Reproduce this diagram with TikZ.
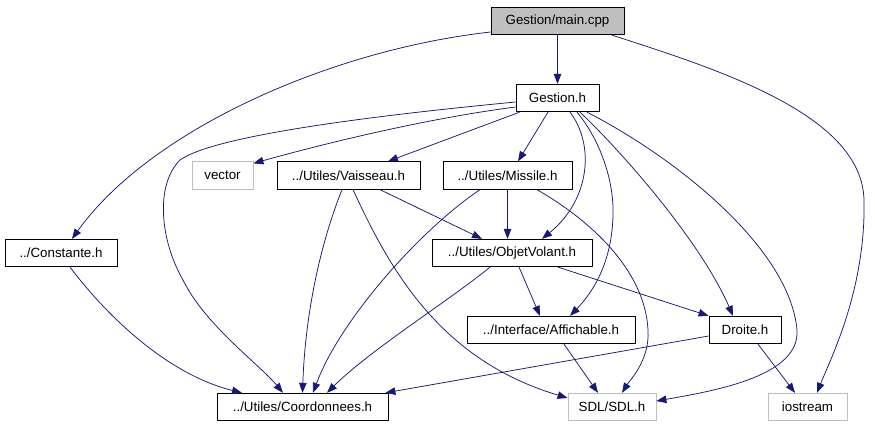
\documentclass[tikz,border=0pt]{standalone}
\usepackage{fontspec}
\setmainfont{Liberation Sans}
\usetikzlibrary{arrows.meta}
\definecolor{edgeblue}{HTML}{191970}
\definecolor{lightgrey}{HTML}{BFBFBF}
\begin{document}
\begin{tikzpicture}[x=1pt,y=-1pt,
  box/.style={draw=black,line width=0.8pt,rectangle,inner sep=0pt,minimum height=27.5pt,
    font=\fontsize{13.33}{16}\selectfont,text=black},
  extbox/.style={box,draw=lightgrey},
  curbox/.style={box,fill=lightgrey},
  dep/.style={draw=edgeblue,line width=0.75pt,-{Triangle[length=10pt,width=7.5pt]},fill=none},
]
\fill[white] (0,0) rectangle (875,427);
\useasboundingbox (0,0) rectangle (875,427);

\node[curbox,minimum width=133pt] (main) at (557.5,21) {Gestion/main.cpp};
\node[box,minimum width=83pt] (gestionh) at (557.5,98) {Gestion.h};
\node[extbox,minimum width=61pt] (vector) at (222.5,175.5) {vector};
\node[box,minimum width=143pt] (vaisseau) at (348.5,175.5) {../Utiles/Vaisseau.h};
\node[box,minimum width=129pt] (missile) at (507.5,175.5) {../Utiles/Missile.h};
\node[box,minimum width=112pt] (constante) at (61,253) {../Constante.h};
\node[box,minimum width=160pt] (objetvolant) at (512,253) {../Utiles/ObjetVolant.h};
\node[box,minimum width=168pt] (affichable) at (551,330) {../Interface/Affichable.h};
\node[box,minimum width=72pt] (droite) at (745,330) {Droite.h};
\node[box,minimum width=171pt] (coord) at (302.5,407) {../Utiles/Coordonnees.h};
\node[extbox,minimum width=88pt] (sdl) at (612,407) {SDL/SDL.h};
\node[extbox,minimum width=79pt] (iostream) at (807.5,407) {iostream};

% from main.cpp
\draw[dep] (main.south) -- (gestionh.north);
\draw[dep] ([yshift=-11pt]main.west) .. controls (330,50) and (150,130) .. ([xshift=11pt]constante.north);
\draw[dep] ([xshift=54.5pt]main.south) .. controls (720,70) and (862,115) .. (864,200)
  .. controls (866,290) and (830,360) .. ([xshift=9.5pt]iostream.north);

% from Gestion.h
\draw[dep] ([yshift=-9pt]gestionh.west) .. controls (430,118) and (330,142) .. ([yshift=-2pt]vector.north east);
\draw[dep] ([xshift=4pt]gestionh.south west) -- ([xshift=39.5pt]vaisseau.north);
\draw[dep] ([xshift=-9.5pt]gestionh.south) -- ([xshift=10.5pt]missile.north);
\draw[dep] ([yshift=-4pt]gestionh.west) .. controls (380,115) and (215,135) .. (180,160)
  .. controls (155,185) and (160,240) .. (183,280)
  .. controls (205,325) and (260,365) .. ([xshift=-19.5pt]coord.north);
\draw[dep] ([xshift=12.5pt]gestionh.south) .. controls (595,145) and (590,200) .. ([xshift=30pt]objetvolant.north);
\draw[dep] ([xshift=19.5pt]gestionh.south) .. controls (600,140) and (614,180) .. (613,215)
  .. controls (612,260) and (595,290) .. ([xshift=19pt]affichable.north);
\draw[dep] ([xshift=22.5pt]gestionh.south) .. controls (620,150) and (700,240) .. ([xshift=-12pt]droite.north);
\draw[dep] ([xshift=29.5pt]gestionh.south) .. controls (680,160) and (790,250) .. (797,330)
  .. controls (800,375) and (720,390) .. ([yshift=6pt]sdl.east);

% from Vaisseau.h
\draw[dep] ([xshift=31.5pt]vaisseau.south) -- ([xshift=-30pt]objetvolant.north);
\draw[dep] ([xshift=-6.5pt]vaisseau.south) .. controls (318,250) and (305,320) .. (coord.north);
\draw[dep] ([xshift=4.5pt]vaisseau.south) .. controls (390,270) and (440,360) .. ([yshift=9pt]sdl.west);

% from Missile.h
\draw[dep] (missile.south) -- (missile.south |- objetvolant.north);
\draw[dep] ([xshift=-27.5pt]missile.south) .. controls (420,230) and (340,320) .. ([xshift=10.5pt]coord.north);
\draw[dep] ([xshift=29.5pt]missile.south) .. controls (590,220) and (645,270) .. (648,330)
  .. controls (650,360) and (630,380) .. ([xshift=10pt]sdl.north);

% from ObjetVolant.h
\draw[dep] ([xshift=7pt]objetvolant.south) -- ([xshift=-11pt]affichable.north);
\draw[dep] ([xshift=46pt]objetvolant.south) -- (droite.north west);
\draw[dep] ([xshift=-22pt]objetvolant.south) .. controls (450,300) and (370,350) .. ([xshift=24.5pt]coord.north);

% from Constante.h
\draw[dep] ([xshift=9pt]constante.south) .. controls (110,320) and (170,375) .. ([xshift=-60.5pt]coord.north);

% from Affichable.h
\draw[dep] ([xshift=13pt]affichable.south) -- ([xshift=-14pt]sdl.north);

% from Droite.h
\draw[dep] ([yshift=-6pt]droite.west) -- ([xshift=-3pt]coord.north east);
\draw[dep] ([xshift=13pt]droite.south) -- ([xshift=-12.5pt]iostream.north);
\end{tikzpicture}
\end{document}
